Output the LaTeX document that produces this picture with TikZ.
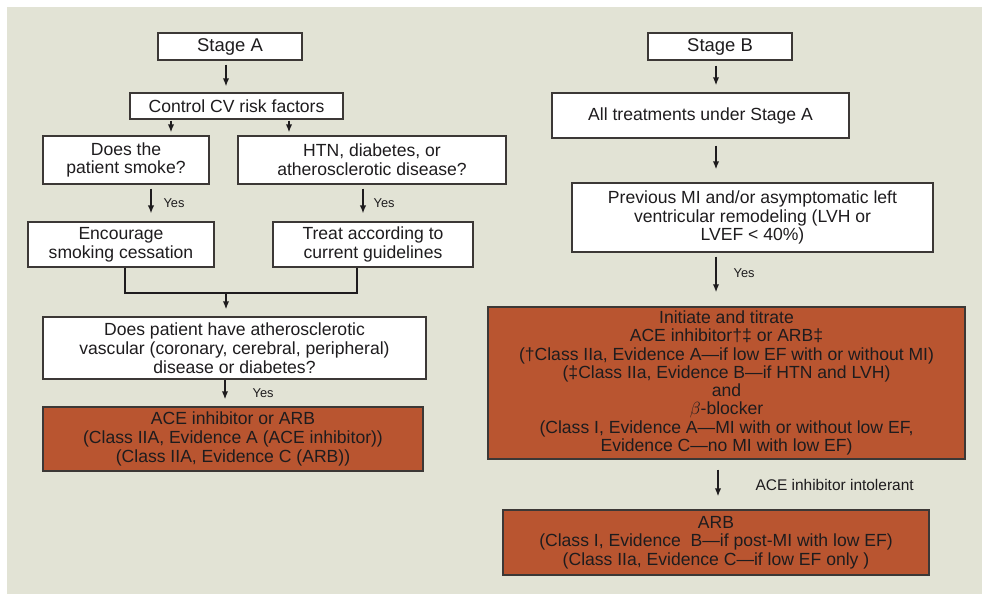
\documentclass[tikz,border=0pt]{standalone}
\usepackage{fontspec}
\setmainfont{Liberation Sans}
\usepackage{xcolor}
\usepackage{amsmath}
\usetikzlibrary{positioning,calc,arrows.meta}
\definecolor{paper}{RGB}{226,227,213}
\definecolor{rust}{RGB}{185,85,48}
\definecolor{ink}{RGB}{30,28,30}
\definecolor{edge}{RGB}{60,56,54}
\begin{document}
\begin{tikzpicture}[x=0.02cm, y=-0.02cm,
  every node/.style = {font=\fontsize{10}{10.6}\selectfont, text=ink, align=center},
  box/.style 2 args = {draw=edge, line width=0.8pt, fill=white, inner sep=0pt,
    minimum width=#1*0.02cm, minimum height=#2*0.02cm},
  redbox/.style 2 args = {box={#1}{#2}, fill=rust},
  stagebox/.style 2 args = {box={#1}{#2}, font=\fontsize{10.5}{12}\selectfont},
  arr/.style = {draw=ink, line width=0.75pt, -{Latex[length=4.5pt,width=3.6pt]},
    shorten <=2.3pt, shorten >=3.4pt},
  joinline/.style = {draw=ink, line width=0.75pt},
  lbl/.style = {font=\fontsize{7.3}{9}\selectfont, inner sep=0pt}
]
\useasboundingbox (0,0) rectangle (982,594);
\fill[paper] (7,7) rectangle (982,594);

\coordinate (xA) at (226,0);
\coordinate (xB) at (716,0);
\coordinate (xsmoke) at (171,0);
\coordinate (xhtn) at (289,0);
\coordinate (xquit) at (151,0);
\coordinate (xtreat) at (363,0);
\coordinate (merge) at (226,293);

% Stage A
\node[stagebox={144}{27}] (stageA) at (230,46.5) {Stage A};
\node[box={213}{26}] (cvrisk) at (236.5,106) {Control CV risk factors};
\node[box={166}{48}] (smoke) at (126,160) {Does the\\patient smoke?};
\node[box={268}{48}] (htn) at (372,160) {HTN, diabetes, or\\atherosclerotic disease?};
\node[box={186}{45}] (quit) at (121,244.5) {Encourage\\smoking cessation};
\node[box={200}{45}] (treat) at (373,244.5) {Treat according to\\current guidelines};
\node[box={383}{62}, font=\fontsize{10}{10.8}\selectfont] (athero) at (234.5,348)
  {Does patient have atherosclerotic\\vascular (coronary, cerebral, peripheral)\\disease or diabetes?};
\node[redbox={380}{64}] (aceA) at (233,439)
  {ACE inhibitor or ARB\\(Class IIA, Evidence A (ACE inhibitor))\\(Class IIA, Evidence C (ARB))};

\draw[arr] (stageA.south -| xA) -- (cvrisk.north -| xA);
\draw[arr, shorten <=0.5pt, shorten >=1.7pt] (cvrisk.south -| xsmoke) -- (smoke.north -| xsmoke);
\draw[arr, shorten <=0.5pt, shorten >=1.7pt] (cvrisk.south -| xhtn) -- (htn.north -| xhtn);
\draw[arr, shorten >=4.5pt] (smoke.south -| xquit) -- node[lbl, right=6.8pt] {Yes} (quit.north -| xquit);
\draw[arr, shorten >=4.5pt] (htn.south -| xtreat) -- node[lbl, right=5.7pt] {Yes} (treat.north -| xtreat);
\draw[joinline] ($(quit.south)+(4,0)$) |- (merge) -| ($(treat.south)+(-16,0)$);
\draw[arr, shorten <=0pt, shorten >=4pt] (merge) -- (merge |- athero.north);
\draw[arr, shorten <=0pt, shorten >=4pt] ($(athero.south)+(-9.5,0)$) coordinate (ya)
  -- node[lbl, right=15.4pt] {Yes} (ya |- aceA.north);

% Stage B
\node[stagebox={144}{27}] (stageB) at (720,46.5) {Stage B};
\node[box={297}{45}] (alltreat) at (700.5,115.5) {All treatments under Stage A};
\node[box={361}{69}] (prevmi) at (752.5,217.5)
  {Previous MI and/or asymptomatic left\\ventricular remodeling (LVH or\\LVEF~<~40\%)};
\node[redbox={477}{152}, font=\fontsize{10}{10.4}\selectfont] (initiate) at (726.5,383)
  {Initiate and titrate\\ACE inhibitor†‡ or ARB‡\\(†Class IIa, Evidence A—if low EF with or without MI)\\(‡Class IIa, Evidence B—if HTN and LVH)\\and\\$\beta$-blocker\\(Class I, Evidence A—MI with or without low EF,\\Evidence C—no MI with low EF)};
\node[redbox={426}{65}] (arb) at (716,542.5)
  {ARB\\(Class I, Evidence~ B—if post-MI with low EF)\\(Class IIa, Evidence C—if low EF only )};

\draw[arr, shorten <=2.8pt, shorten >=4pt] (stageB.south -| xB) -- (alltreat.north -| xB);
\draw[arr, shorten <=4pt, shorten >=7.4pt] (alltreat.south -| xB) -- (prevmi.north -| xB);
\draw[arr, shorten >=8pt] (prevmi.south -| xB) -- node[lbl, right=9.7pt, pos=0.38] {Yes} (initiate.north -| xB);
\draw[arr, shorten <=5.7pt, shorten >=7.4pt] ($(initiate.south)+(-8.5,0)$) coordinate (yb)
  -- node[lbl, right=21pt, font=\fontsize{8.8}{10}\selectfont] {ACE inhibitor intolerant} (yb |- arb.north);
\end{tikzpicture}
\end{document}
